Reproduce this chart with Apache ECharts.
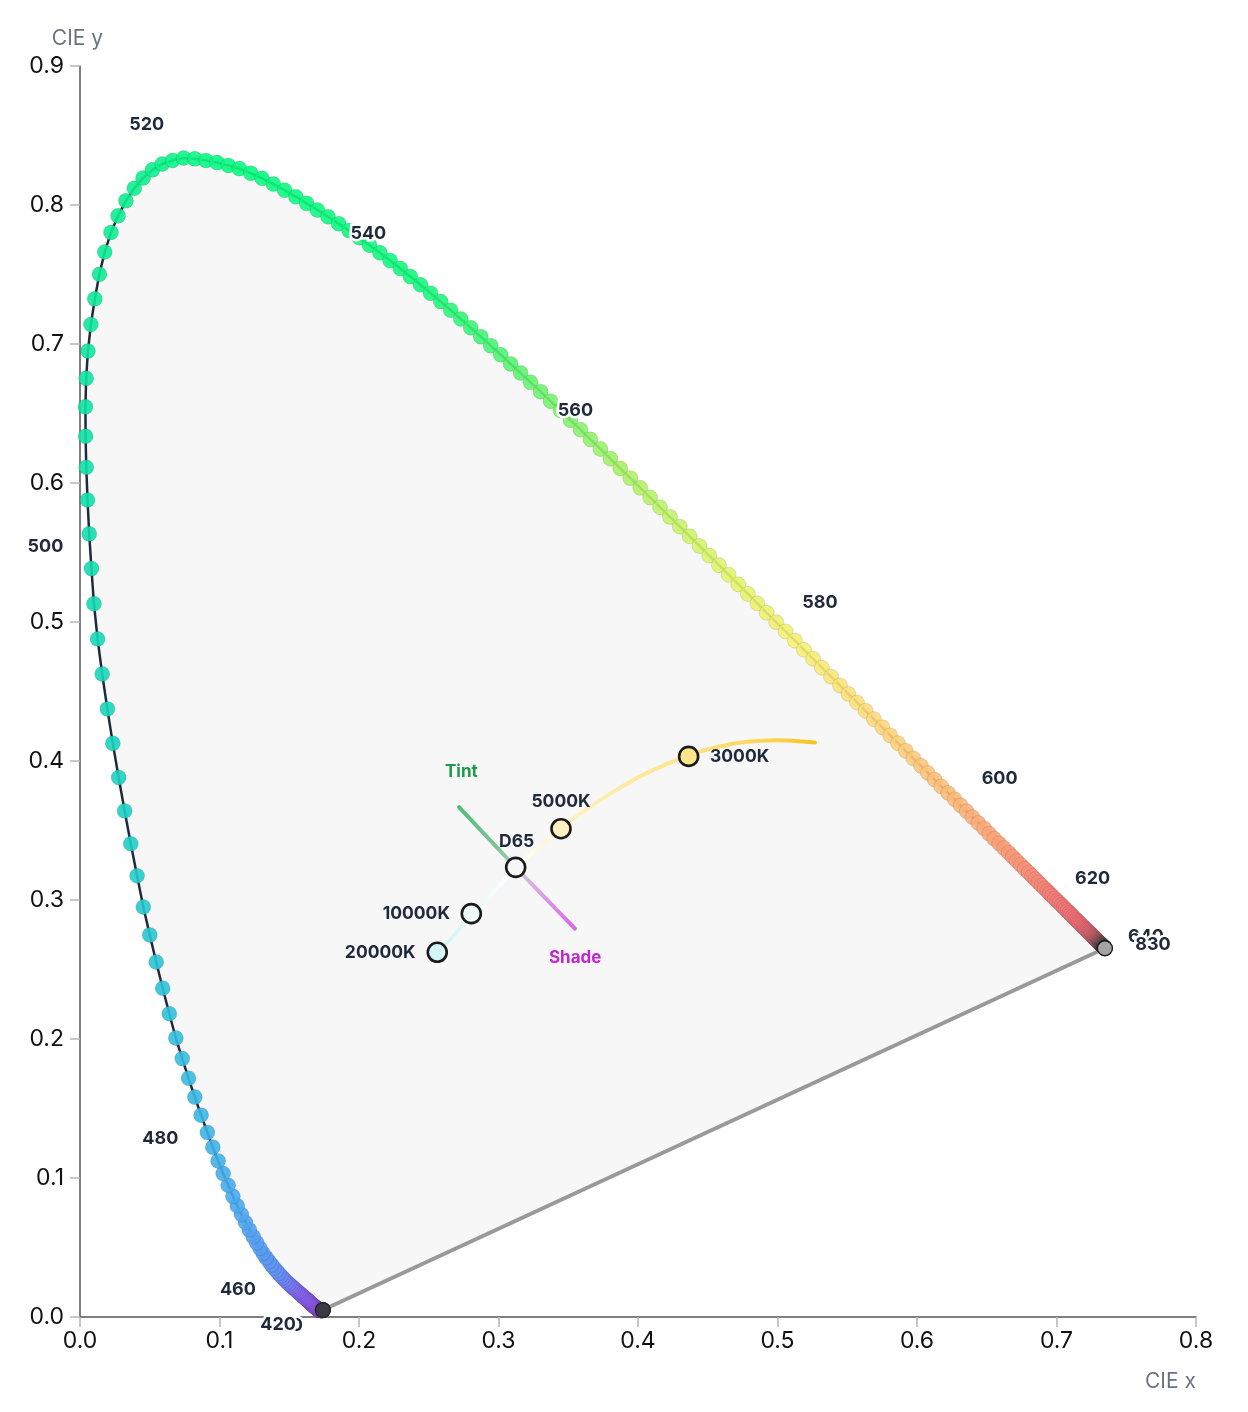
<!DOCTYPE html>
<html><head><meta charset="utf-8">
<script src="https://cdn.jsdelivr.net/npm/echarts@6/dist/echarts.min.js"></script>
<style>html,body{margin:0;padding:0;background:#fff}#c{width:1248px;height:1412px}</style>
</head><body><div id="c"></div>
<script>
// ---- DATA ----
const locusNm = [
380,381,382,383,384,385,386,387,388,389,390,391,392,393,394,395,396,397,398,399,
400,401,402,403,404,405,406,407,408,409,410,411,412,413,414,415,416,417,418,419,
420,421,422,423,424,425,426,427,428,429,430,431,432,433,434,435,436,437,438,439,
440,441,442,443,444,445,446,447,448,449,450,451,452,453,454,455,456,457,458,459,
460,461,462,463,464,465,466,467,468,469,470,471,472,473,474,475,476,477,478,479,
480,481,482,483,484,485,486,487,488,489,490,491,492,493,494,495,496,497,498,499,
500,501,502,503,504,505,506,507,508,509,510,511,512,513,514,515,516,517,518,519,
520,521,522,523,524,525,526,527,528,529,530,531,532,533,534,535,536,537,538,539,
540,541,542,543,544,545,546,547,548,549,550,551,552,553,554,555,556,557,558,559,
560,561,562,563,564,565,566,567,568,569,570,571,572,573,574,575,576,577,578,579,
580,581,582,583,584,585,586,587,588,589,590,591,592,593,594,595,596,597,598,599,
600,601,602,603,604,605,606,607,608,609,610,611,612,613,614,615,616,617,618,619,
620,621,622,623,624,625,626,627,628,629,630,631,632,633,634,635,636,637,638,639,
640,641,642,643,644,645,646,647,648,649,650,651,652,653,654,655,656,657,658,659,
660,661,662,663,664,665,666,667,668,669,670,671,672,673,674,675,676,677,678,679,
680,681,682,683,684,685,686,687,688,689,690,691,692,693,694,695,696,697,698,699,
700,830];
const locusX = [
0.1741,0.1741,0.1741,0.1741,0.1740, 0.1740,0.1740,0.1739,0.1739,0.1738,
0.1738,0.1738,0.1737,0.1737,0.1736, 0.1736,0.1735,0.1735,0.1734,0.1734,
0.1733,0.1733,0.1732,0.1731,0.1731, 0.1730,0.1729,0.1728,0.1727,0.1727,
0.1726,0.1725,0.1724,0.1723,0.1722, 0.1721,0.1720,0.1718,0.1717,0.1716,
0.1714,0.1712,0.1710,0.1708,0.1706, 0.1703,0.1700,0.1698,0.1695,0.1692,
0.1689,0.1685,0.1681,0.1677,0.1673, 0.1669,0.1664,0.1659,0.1654,0.1649,
0.1644,0.1638,0.1632,0.1625,0.1618, 0.1611,0.1603,0.1594,0.1585,0.1576,
0.1566,0.1556,0.1545,0.1534,0.1522, 0.1510,0.1497,0.1483,0.1469,0.1455,
0.1440,0.1424,0.1408,0.1391,0.1373, 0.1355,0.1334,0.1312,0.1290,0.1266,
0.1241,0.1214,0.1186,0.1157,0.1127, 0.1096,0.1062,0.1026,0.0990,0.0952,
0.0913,0.0868,0.0823,0.0778,0.0733, 0.0687,0.0640,0.0593,0.0546,0.0500,
0.0454,0.0409,0.0364,0.0320,0.0277, 0.0235,0.0196,0.0159,0.0126,0.0100,
0.0082,0.0066,0.0054,0.0045,0.0040, 0.0039,0.0044,0.0057,0.0078,0.0106,
0.0139,0.0177,0.0222,0.0273,0.0329, 0.0389,0.0452,0.0519,0.0589,0.0664,
0.0743,0.0823,0.0903,0.0983,0.1063, 0.1142,0.1224,0.1305,0.1386,0.1467,
0.1547,0.1625,0.1702,0.1778,0.1854, 0.1929,0.2003,0.2076,0.2150,0.2223,
0.2296,0.2368,0.2441,0.2513,0.2586, 0.2658,0.2730,0.2801,0.2873,0.2944,
0.3016,0.3087,0.3159,0.3230,0.3302, 0.3373,0.3445,0.3516,0.3588,0.3659,
0.3731,0.3802,0.3873,0.3945,0.4016, 0.4087,0.4158,0.4229,0.4300,0.4370,
0.4441,0.4511,0.4580,0.4650,0.4719, 0.4788,0.4856,0.4923,0.4991,0.5058,
0.5125,0.5190,0.5255,0.5319,0.5384, 0.5448,0.5509,0.5570,0.5631,0.5691,
0.5752,0.5808,0.5864,0.5919,0.5974, 0.6029,0.6078,0.6127,0.6175,0.6223,
0.6270,0.6313,0.6356,0.6398,0.6440, 0.6482,0.6518,0.6554,0.6589,0.6624,
0.6658,0.6687,0.6716,0.6745,0.6773, 0.6801,0.6825,0.6848,0.6870,0.6893,
0.6915,0.6934,0.6952,0.6970,0.6988, 0.7006,0.7021,0.7036,0.7051,0.7065,
0.7079,0.7092,0.7104,0.7116,0.7128, 0.7140,0.7150,0.7160,0.7170,0.7180,
0.7190,0.7198,0.7206,0.7214,0.7222, 0.7230,0.7236,0.7242,0.7248,0.7254,
0.7260,0.7265,0.7269,0.7274,0.7278, 0.7283,0.7286,0.7290,0.7293,0.7297,
0.7300,0.7302,0.7304,0.7307,0.7309, 0.7311,0.7313,0.7315,0.7316,0.7318,
0.7320,0.7321,0.7323,0.7324,0.7326, 0.7327,0.7328,0.7330,0.7331,0.7333,
0.7334,0.7335,0.7336,0.7338,0.7339, 0.7340,0.7341,0.7342,0.7343,0.7343,
0.7344,0.7344,0.7345,0.7345,0.7346, 0.7346,0.7346,0.7346,0.7347,0.7347,
0.7347,0.7347];
const locusY = [
0.0050,0.0050,0.0050,0.0050,0.0050, 0.0050,0.0050,0.0049,0.0049,0.0049,
0.0049,0.0049,0.0049,0.0049,0.0049, 0.0049,0.0049,0.0049,0.0048,0.0048,
0.0048,0.0048,0.0048,0.0048,0.0048, 0.0048,0.0048,0.0048,0.0048,0.0048,
0.0048,0.0048,0.0048,0.0048,0.0048, 0.0048,0.0049,0.0049,0.0050,0.0050,
0.0051,0.0052,0.0054,0.0055,0.0057, 0.0058,0.0060,0.0062,0.0064,0.0066,
0.0069,0.0072,0.0075,0.0079,0.0082, 0.0086,0.0090,0.0094,0.0099,0.0104,
0.0109,0.0114,0.0120,0.0126,0.0132, 0.0138,0.0145,0.0152,0.0160,0.0168,
0.0177,0.0186,0.0196,0.0206,0.0216, 0.0227,0.0239,0.0252,0.0266,0.0281,
0.0297,0.0314,0.0333,0.0353,0.0375, 0.0399,0.0427,0.0459,0.0495,0.0535,
0.0578,0.0627,0.0680,0.0737,0.0800, 0.0868,0.0948,0.1032,0.1123,0.1222,
0.1327,0.1452,0.1582,0.1718,0.1859, 0.2007,0.2182,0.2365,0.2554,0.2749,
0.2950,0.3174,0.3405,0.3641,0.3881, 0.4127,0.4375,0.4626,0.4878,0.5131,
0.5384,0.5634,0.5878,0.6113,0.6336, 0.6548,0.6753,0.6950,0.7140,0.7325,
0.7502,0.7662,0.7802,0.7922,0.8030, 0.8120,0.8195,0.8253,0.8295,0.8321,
0.8338,0.8332,0.8321,0.8305,0.8285, 0.8262,0.8229,0.8192,0.8151,0.8106,
0.8059,0.8012,0.7964,0.7915,0.7866, 0.7816,0.7764,0.7711,0.7656,0.7600,
0.7543,0.7485,0.7426,0.7366,0.7305, 0.7243,0.7180,0.7117,0.7053,0.6988,
0.6923,0.6857,0.6791,0.6724,0.6657, 0.6589,0.6521,0.6452,0.6383,0.6314,
0.6245,0.6175,0.6105,0.6035,0.5965, 0.5896,0.5826,0.5756,0.5686,0.5617,
0.5547,0.5478,0.5409,0.5340,0.5271, 0.5202,0.5134,0.5066,0.4999,0.4932,
0.4866,0.4800,0.4735,0.4671,0.4607, 0.4544,0.4482,0.4421,0.4361,0.4301,
0.4242,0.4184,0.4128,0.4073,0.4018, 0.3965,0.3914,0.3865,0.3817,0.3770,
0.3725,0.3681,0.3638,0.3596,0.3554, 0.3514,0.3477,0.3441,0.3407,0.3373,
0.3340,0.3310,0.3281,0.3252,0.3224, 0.3197,0.3173,0.3150,0.3127,0.3105,
0.3083,0.3064,0.3046,0.3028,0.3010, 0.2993,0.2978,0.2963,0.2948,0.2934,
0.2920,0.2907,0.2895,0.2883,0.2871, 0.2859,0.2849,0.2839,0.2829,0.2819,
0.2809,0.2801,0.2793,0.2785,0.2778, 0.2770,0.2764,0.2758,0.2752,0.2746,
0.2740,0.2735,0.2731,0.2726,0.2722, 0.2717,0.2714,0.2710,0.2707,0.2703,
0.2700,0.2698,0.2696,0.2693,0.2691, 0.2689,0.2687,0.2685,0.2684,0.2682,
0.2680,0.2679,0.2677,0.2676,0.2674, 0.2673,0.2672,0.2670,0.2669,0.2667,
0.2666,0.2665,0.2664,0.2662,0.2661, 0.2660,0.2659,0.2658,0.2657,0.2657,
0.2656,0.2656,0.2655,0.2655,0.2654, 0.2654,0.2654,0.2654,0.2653,0.2653,
0.2653,0.2653];

const labelNm = [420, 460, 480, 500, 520, 540, 560, 580, 600, 620, 830];
const hiddenLabelNm = [400, 640];

// Planckian locus, 2000K .. 20000K
const planckX = [0.5269,0.5003,0.4765,0.4553,0.4366,0.4054,0.3805,0.3607,0.3450,0.3323,0.3220,0.3135,0.3064,0.2952,0.2870,0.2807,0.2720,0.2640,0.2561];
const planckY = [0.4133,0.4150,0.4137,0.4097,0.4042,0.3909,0.3767,0.3635,0.3516,0.3410,0.3318,0.3237,0.3166,0.3048,0.2956,0.2890,0.2790,0.2700,0.2624];

const markerNames = ['3000K','5000K','D65','10000K','20000K'];
const markerX = [0.4363, 0.3448, 0.3123, 0.2805, 0.2561];
const markerY = [0.4033, 0.3513, 0.3235, 0.2902, 0.2624];

const tintX = [0.3123, 0.2717], tintY = [0.3235, 0.3669];
const shadeX = [0.3123, 0.3548], shadeY = [0.3235, 0.2794];

// ---- STYLE ----
const FONT = 'Inter, "Liberation Sans", Arial, sans-serif';
const dotColorStops = [[380,'#3a3a44'],[398,'#7444c0'],[412,'#9650e0'],[440,'#9456e8'],[452,'#8266ee'],
 [462,'#6490f0'],[475,'#48aaee'],[486,'#30c0dc'],[495,'#18d4be'],[503,'#10e0a8'],[512,'#0eec92'],
 [525,'#08fa80'],[542,'#14f77c'],[552,'#5ef270'],[562,'#a6f266'],[572,'#def46a'],[580,'#f6f072'],
 [588,'#fddc7a'],[598,'#fcbe78'],[608,'#f9a078'],[622,'#f38078'],[640,'#ef6c78'],[660,'#c06670'],
 [685,'#606064'],[700,'#6a6a6a'],[830,'#a0a0a0']];
function hex2rgb(h){return [parseInt(h.slice(1,3),16),parseInt(h.slice(3,5),16),parseInt(h.slice(5,7),16)];}
function dotColor(nm){
  for(let i=1;i<dotColorStops.length;i++){
    const [a,ca]=dotColorStops[i-1],[b,cb]=dotColorStops[i];
    if(nm<=b){const t=(nm-a)/(b-a);const A=hex2rgb(ca),B=hex2rgb(cb);
      return 'rgb('+A.map((v,k)=>Math.round(v+(B[k]-v)*t)).join(',')+')';}
  }
  return '#a0a0a0';
}
const labelOffsets = {400:[-37,15],420:[-41,15],460:[-43,14],480:[-47,6],500:[-46,-22],520:[-37,-33],
  540:[-32,-35],560:[-25,-38],580:[25,-38],600:[45,-21],620:[48,-10],640:[63,10],830:[48,-4]};
const markerFill = {'3000K':'#fde58a','5000K':'#fdf1c2','D65':'#f7f7f7','10000K':'#eefcfc','20000K':'#d4f5f5'};
const markerLabel = {'3000K':{offset:[51,0]},'5000K':{offset:[0,-27]},'D65':{offset:[1,-26]},
  '10000K':{offset:[-55,0]},'20000K':{offset:[-57,0]}};

const locusPts = locusX.map((x,i)=>[x, locusY[i], locusNm[i]]);
const last = locusPts.length-1;

function labelData(list){
  return list.map(nm=>{const i=locusNm.indexOf(nm);
    return {value:[locusX[i],locusY[i]], name:String(nm), label:{offset:labelOffsets[nm]}};});
}
const wlBase = {show:true, position:'inside', formatter:'{b}', fontFamily:FONT, fontSize:18, fontWeight:'bold'};
const wlHalo = Object.assign({}, wlBase, {color:'#ffffff', textBorderColor:'#ffffff', textBorderWidth:5});
const wlText = Object.assign({}, wlBase, {color:'#1e293b', textBorderColor:'#1e293b', textBorderWidth:0});
function labelSeries(list, z, style, dotCol){
  return { type:'scatter', z:z, silent:true, symbolSize:0.1, data:labelData(list),
    itemStyle:{color:dotCol, opacity:1}, label:style};
}

const chart = echarts.init(document.getElementById('c'), null, {renderer:'canvas'});
chart.setOption({
  animation:false,
  backgroundColor:'#ffffff',
  grid:{left:80, right:52, top:66, bottom:95, containLabel:false},
  xAxis:{type:'value', min:0, max:0.8, interval:0.1, name:'CIE x', nameLocation:'end', nameGap:0,
    nameTextStyle:{fontFamily:FONT, fontSize:21, color:'#6b7280', align:'right', verticalAlign:'top', padding:[54,0,0,0]},
    axisLine:{show:true, onZero:false, lineStyle:{color:'#555', width:1.5}},
    axisTick:{show:true, length:10, lineStyle:{color:'#b5b5b5', width:1.5}},
    splitLine:{show:false},
    axisLabel:{fontFamily:FONT, fontSize:23, color:'#111', margin:13, formatter:v=>v.toFixed(1)}},
  yAxis:{type:'value', min:0, max:0.9, interval:0.1, name:'CIE y', nameLocation:'end', nameGap:17,
    nameTextStyle:{fontFamily:FONT, fontSize:21, color:'#6b7280', padding:[0,5,0,0]},
    axisLine:{show:true, onZero:false, lineStyle:{color:'#555', width:1.5}},
    axisTick:{show:true, length:10, lineStyle:{color:'#b5b5b5', width:1.5}},
    splitLine:{show:false},
    axisLabel:{fontFamily:FONT, fontSize:23, color:'#111', margin:16, formatter:v=>v.toFixed(1)}},
  series:[
    { type:'custom', z:1, silent:true, data:[[0,0]],
      renderItem:(params, api)=>{
        const pts = locusX.map((x,i)=>api.coord([x, locusY[i]]));
        return {type:'polygon', shape:{points:pts}, style:{fill:'#f7f7f7'}};
      }},
    { type:'line', z:2, silent:true, showSymbol:false, data:locusPts.map(p=>[p[0],p[1]]),
      lineStyle:{color:'#1e293b', width:2.5}},
    { type:'line', z:2, silent:true, showSymbol:false,
      data:[[locusX[0],locusY[0]],[locusX[last],locusY[last]]],
      lineStyle:{color:'#999999', width:4}},
    { type:'scatter', z:3, silent:true, symbolSize:15, data:locusPts,
      itemStyle:{color:p=>dotColor(p.data[2]), borderColor:'rgba(0,0,0,0.12)', borderWidth:1, opacity:0.9}},
    { type:'scatter', z:3, silent:true, symbolSize:15,
      data:[{value:[locusX[0],locusY[0]], itemStyle:{color:'#3a3a44', borderColor:'#222'}},
            {value:[locusX[last],locusY[last]], itemStyle:{color:'#a3a3a3', borderColor:'#1a1a1a'}}],
      itemStyle:{borderWidth:1.3, opacity:1}},
    { type:'line', z:4, silent:true, showSymbol:false, smooth:0.3,
      data:planckX.map((x,i)=>[x, planckY[i]]),
      lineStyle:{width:4, cap:'round', color:new echarts.graphic.LinearGradient(1,0,0,0,[
        {offset:0,color:'#f7c31c'},{offset:0.15,color:'#fbd65a'},{offset:0.34,color:'#fde38a'},
        {offset:0.5,color:'#feeaa2'},{offset:0.67,color:'#fff3c6'},{offset:0.79,color:'#ffffff'},
        {offset:0.91,color:'#e6fafa'},{offset:1,color:'#c6f3f3'}])}},
    { type:'line', z:4, silent:true, showSymbol:false,
      data:tintX.map((x,i)=>[x, tintY[i]]),
      lineStyle:{width:4, cap:'round', color:new echarts.graphic.LinearGradient(1,1,0,0,[
        {offset:0,color:'#b6cdbf'},{offset:0.35,color:'#7fc298'},{offset:1,color:'#4fbd78'}])},
      endLabel:{show:true, formatter:'Tint', offset:[-22,-35], fontFamily:FONT, fontSize:17, fontWeight:'bold', color:'#1a9c4a'}},
    { type:'line', z:4, silent:true, showSymbol:false,
      data:shadeX.map((x,i)=>[x, shadeY[i]]),
      lineStyle:{width:4, cap:'round', color:new echarts.graphic.LinearGradient(0,0,1,1,[
        {offset:0,color:'#d8cce2'},{offset:0.4,color:'#d7a6e3'},{offset:1,color:'#dc62e8'}])},
      endLabel:{show:true, formatter:'Shade', offset:[-34,29], fontFamily:FONT, fontSize:17, fontWeight:'bold', color:'#c026d3'}},
    { type:'scatter', z:5, silent:true, symbolSize:19,
      data:markerNames.map((n,i)=>({value:[markerX[i],markerY[i]], name:n,
        itemStyle:{color:markerFill[n]}, label:markerLabel[n]})),
      itemStyle:{borderColor:'#1a1a1a', borderWidth:2.6, opacity:1},
      label:{show:true, position:'inside', formatter:'{b}', fontFamily:FONT, fontSize:17.5, fontWeight:'bold', color:'#1e293b'}},
    labelSeries(hiddenLabelNm, 6, wlHalo, '#ffffff'),
    labelSeries(hiddenLabelNm, 7, wlText, '#1e293b'),
    labelSeries(labelNm, 8, wlHalo, '#ffffff'),
    labelSeries(labelNm, 9, wlText, '#1e293b')
  ]
});
</script></body></html>
